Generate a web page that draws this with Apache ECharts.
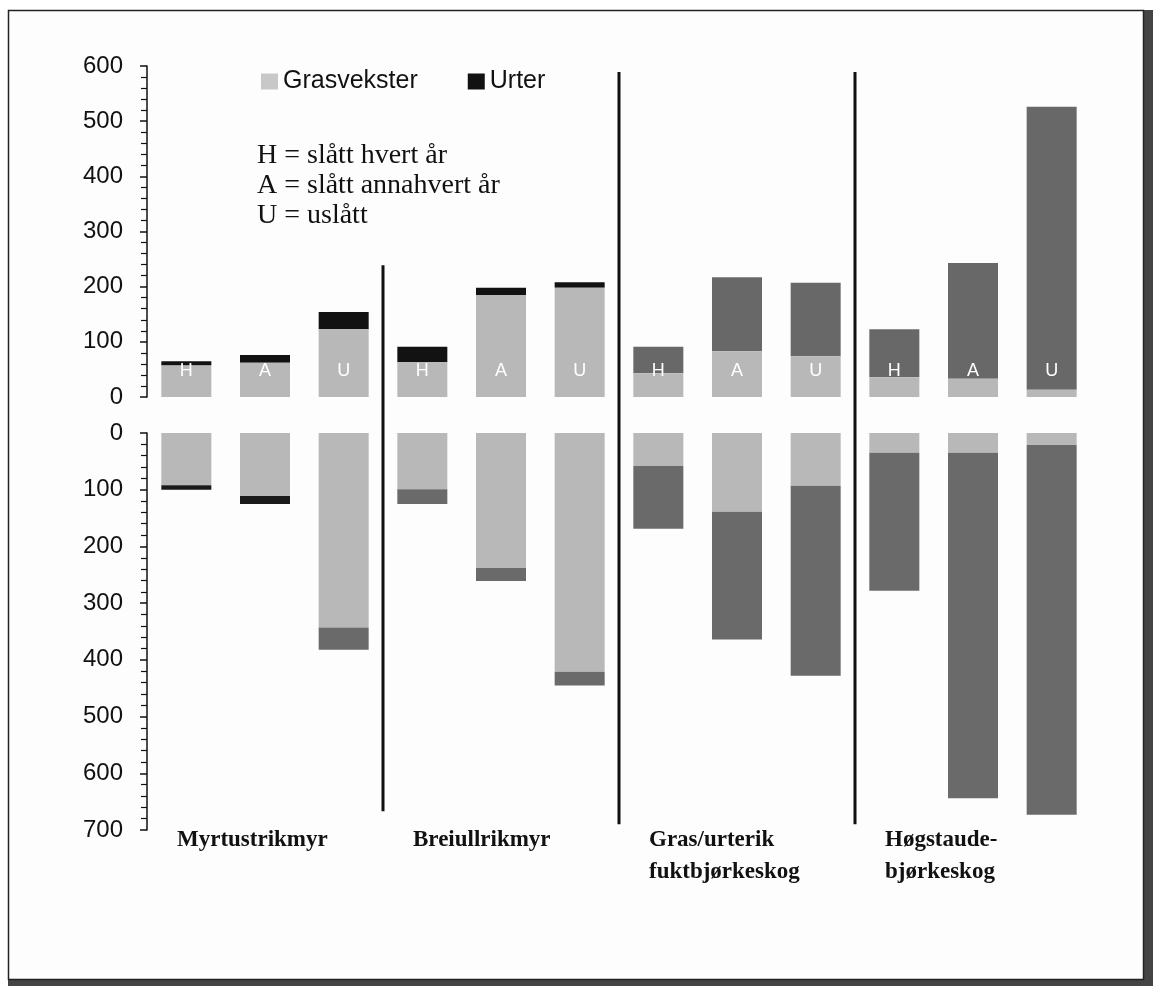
<!DOCTYPE html>
<html>
<head>
<meta charset="utf-8">
<script src="https://cdn.jsdelivr.net/npm/echarts@6/dist/echarts.min.js"></script>
<style>
html,body{margin:0;padding:0;background:#fff;}
#main{width:1153px;height:986px;}
</style>
</head>
<body>
<div id="main"></div>
<script>
// 12 bars: 4 vegetation types x (H, A, U)
var letters = ['H','A','U','H','A','U','H','A','U','H','A','U'];
var groups = ['Myrtustrikmyr','Breiullrikmyr','Gras/urterik\nfuktbjørkeskog','Høgstaude-\nbjørkeskog'];
// above ground (upper panel)
var grasTop  = [57, 62, 123, 63, 185, 198, 43, 83, 74, 36, 33, 13];
var urterTop = [8, 14, 31, 28, 13, 10, 48, 134, 133, 87, 210, 513];
// below ground (lower panel, drawn downwards)
var grasBot  = [92, 111, 343, 99, 238, 421, 58, 139, 93, 35, 35, 21];
var urterBot = [8, 14, 39, 26, 23, 24, 111, 225, 335, 243, 609, 652];
var topTicks = [0, 600, 100];
var botTicks = [0, 700, 100];
// divider lines: [after category, from (upper value), to (lower value)]
var dividers = [[3, 239, 667], [6, 589, 690], [9, 589, 690]];

var myChart = echarts.init(document.getElementById('main'));

var sans = 'Liberation Sans';
var serif = 'Liberation Serif';

var option = {
	backgroundColor:'#ffffff',
	animation:false,
	legend:{
		left:256,
		top:64,
		icon:'rect',
		itemWidth:17,
		itemHeight:16,
		itemGap:50,
		textStyle:{fontFamily:sans,fontSize:25,color:'#111'},
		data:[
			{name:'Grasvekster',itemStyle:{color:'#c8c8c8'}},
			{name:'Urter',itemStyle:{color:'#111'}}
		]
	},
	grid:[
		{left:147,right:62,top:66,height:331},
		{left:147,right:62,top:433,height:397}
	],
	xAxis:[{
		gridIndex:0,
		type:'category',
		data:letters,
		axisLine:{show:false},
		axisTick:{show:false},
		axisLabel:{show:false}
	},{
		gridIndex:1,
		type:'category',
		data:letters,
		axisLine:{show:false},
		axisTick:{show:false},
		axisLabel:{show:false}
	}],
	yAxis:[{
		gridIndex:0,
		type:'value',
		min:topTicks[0],
		max:topTicks[1],
		interval:topTicks[2],
		axisLine:{show:true,lineStyle:{color:'#111',width:1.5}},
		axisTick:{show:true,length:7,lineStyle:{color:'#111',width:1.5}},
		minorTick:{show:true,splitNumber:5,length:6,lineStyle:{color:'#111',width:1.2}},
		splitLine:{show:false},
		axisLabel:{margin:24,fontFamily:sans,fontSize:24,color:'#111'}
	},{
		gridIndex:1,
		type:'value',
		inverse:true,
		min:botTicks[0],
		max:botTicks[1],
		interval:botTicks[2],
		axisLine:{show:true,lineStyle:{color:'#111',width:1.5}},
		axisTick:{show:true,length:7,lineStyle:{color:'#111',width:1.5}},
		minorTick:{show:true,splitNumber:5,length:6,lineStyle:{color:'#111',width:1.2}},
		splitLine:{show:false},
		axisLabel:{margin:24,fontFamily:sans,fontSize:24,color:'#111'}
	}],
	series:[{
		name:'Grasvekster',
		type:'bar',
		xAxisIndex:0,
		yAxisIndex:0,
		stack:'top',
		barWidth:50,
		itemStyle:{color:'#b8b8b8'},
		label:{
			show:true,
			position:'insideBottom',
			distance:17,
			color:'#fff',
			fontFamily:sans,
			fontSize:18,
			formatter:function(p){ return letters[p.dataIndex]; }
		},
		data:grasTop
	},{
		name:'Urter',
		type:'bar',
		xAxisIndex:0,
		yAxisIndex:0,
		stack:'top',
		barWidth:50,
		itemStyle:{
			color:function(p){ return p.dataIndex < 6 ? '#121212' : '#686868'; }
		},
		z:1,
		data:urterTop
	},{
		name:'Grasvekster',
		type:'bar',
		xAxisIndex:1,
		yAxisIndex:1,
		stack:'bot',
		barWidth:50,
		itemStyle:{color:'#b8b8b8'},
		data:grasBot
	},{
		name:'Urter',
		type:'bar',
		xAxisIndex:1,
		yAxisIndex:1,
		stack:'bot',
		barWidth:50,
		itemStyle:{
			color:function(p){ return p.dataIndex < 2 ? '#1a1a1a' : '#6a6a6a'; }
		},
		data:urterBot
	}]
};
myChart.setOption(option);

// frame, explanation text, group names and group dividers
var gfx = [];
gfx.push({type:'rect',z:-1,shape:{x:1143,y:10,width:10,height:976},style:{fill:'#444'}});
gfx.push({type:'rect',z:-1,shape:{x:8,y:979,width:1145,height:7},style:{fill:'#444'}});
gfx.push({type:'rect',z:-1,shape:{x:8.5,y:10.5,width:1135,height:969},style:{fill:'#fdfdfd',stroke:'#222',lineWidth:1.5}});
var notes = ['H = slått hvert år','A = slått annahvert år','U = uslått'];
notes.forEach(function(t,i){
	gfx.push({type:'text',left:257,top:142 + i * 30,style:{text:t,font:'28px "Liberation Serif"',fill:'#111'}});
});
var yBottom = myChart.convertToPixel({yAxisIndex:1}, botTicks[1]);
groups.forEach(function(g,i){
	var cx = myChart.convertToPixel({xAxisIndex:1}, i * 3 + 1);
	gfx.push({type:'text',left:cx - 88,top:yBottom - 6,
		style:{text:g,font:'bold 23px "Liberation Serif"',lineHeight:32,fill:'#111'}});
});
dividers.forEach(function(d){
	var xa = myChart.convertToPixel({xAxisIndex:0}, d[0] - 1);
	var xb = myChart.convertToPixel({xAxisIndex:0}, d[0]);
	var x = (xa + xb) / 2;
	var y1 = myChart.convertToPixel({yAxisIndex:0}, d[1]);
	var y2 = myChart.convertToPixel({yAxisIndex:1}, d[2]);
	gfx.push({type:'line',z:10,shape:{x1:x,y1:y1,x2:x,y2:y2},style:{stroke:'#111',lineWidth:3}});
});
myChart.setOption({graphic:gfx});
</script>
</body>
</html>
